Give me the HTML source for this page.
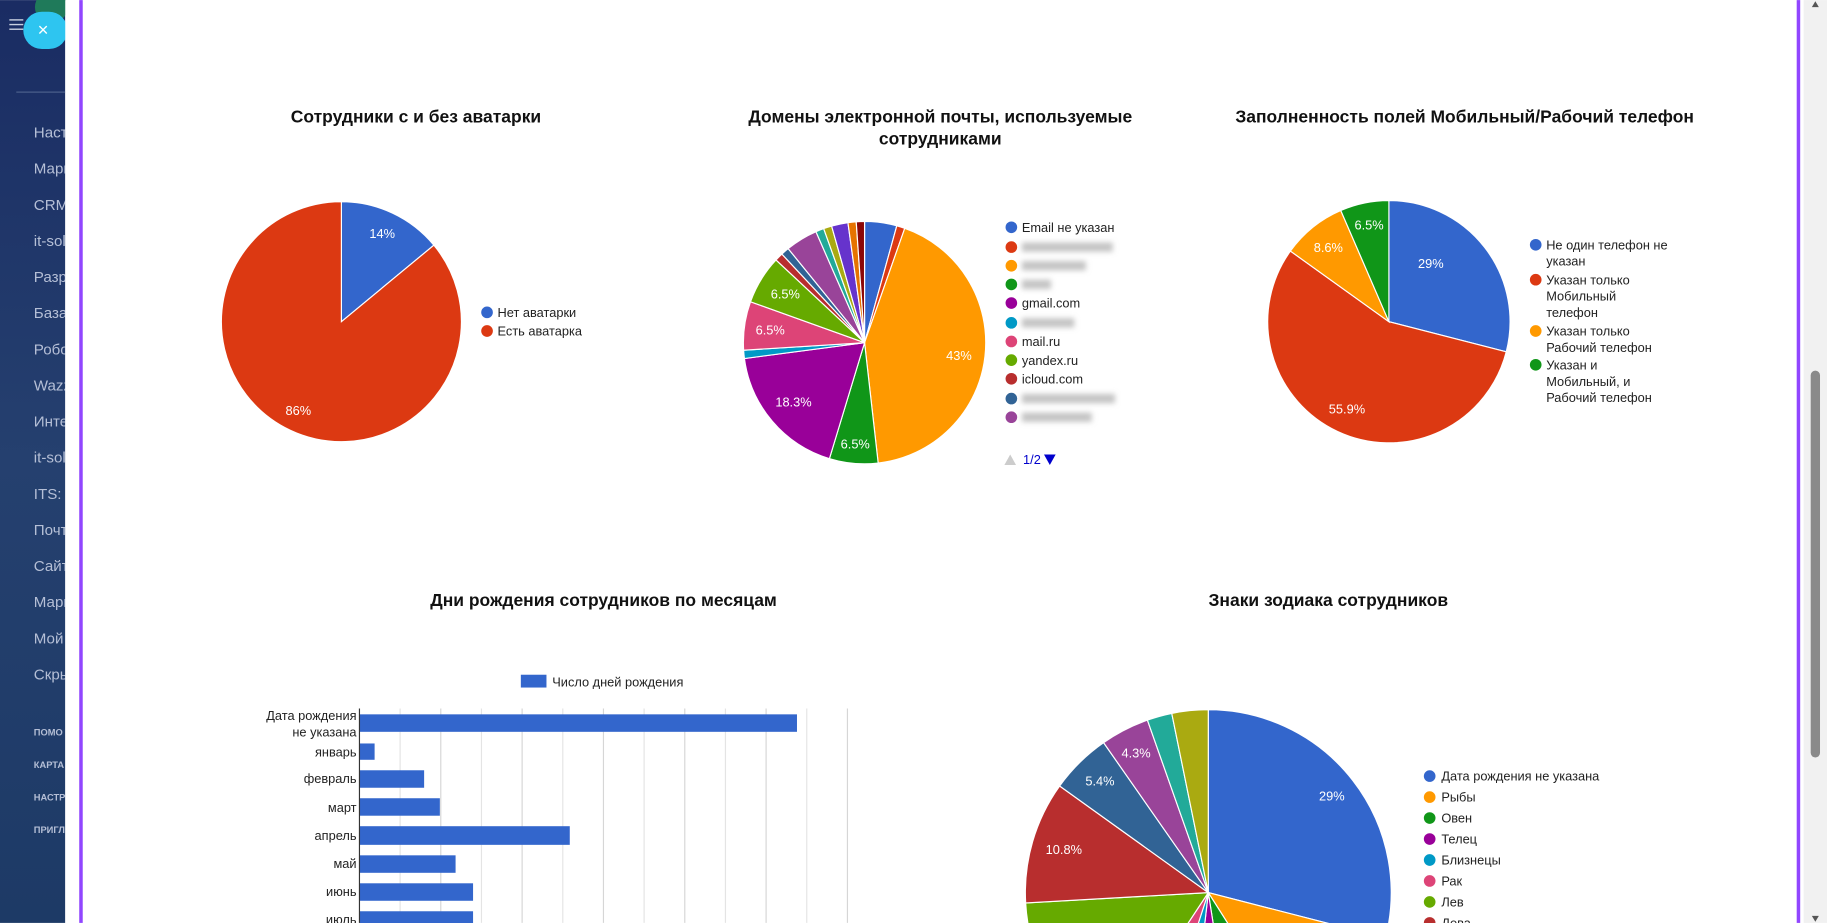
<!DOCTYPE html>
<html><head><meta charset="utf-8">
<style>
html,body{margin:0;padding:0;background:#fff;overflow:hidden;}
svg{display:block;}
text{font-family:"Liberation Sans","Noto Sans CJK SC",sans-serif;}
.t{font-size:15px;font-weight:bold;fill:#111;text-anchor:middle;}
.l{font-size:11px;fill:#222;}
.w{font-size:11px;fill:#fff;text-anchor:middle;}
.s{font-size:13px;fill:#b5bfd6;}
.ss{font-size:8px;fill:#b5bfd6;font-weight:bold;}
</style></head>
<body>
<svg width="1827" height="923" viewBox="0 0 1568 792" xmlns="http://www.w3.org/2000/svg">
<defs>
<linearGradient id="sb" x1="0" y1="0" x2="0" y2="1">
<stop offset="0" stop-color="#1a2c63"/><stop offset="0.5" stop-color="#25406f"/><stop offset="1" stop-color="#1d3a66"/>
</linearGradient>
<filter id="bl"><feGaussianBlur stdDeviation="2.2"/></filter>
</defs>
<rect x="0" y="0" width="56" height="792" fill="url(#sb)"/>
<circle cx="44" cy="6" r="14" fill="#1f7a5a"/>
<rect x="20" y="10" width="38" height="32" rx="16" fill="#2ec5f0"/>
<text x="37" y="31" font-size="16" fill="#fff" text-anchor="middle">×</text>
<g stroke="#c8d0e0" stroke-width="1.2"><line x1="8" y1="17" x2="20" y2="17"/><line x1="8" y1="21" x2="20" y2="21"/><line x1="8" y1="25" x2="20" y2="25"/></g>
<line x1="14" y1="79" x2="56" y2="79" stroke="#4a5e8a"/>
<g class="s">
<text x="29" y="118" class="s">Настр</text><text x="29" y="149" class="s">Марк</text><text x="29" y="180" class="s">CRM</text><text x="29" y="211" class="s">it-sol</text><text x="29" y="242" class="s">Разр</text><text x="29" y="273" class="s">База</text><text x="29" y="304" class="s">Робо</text><text x="29" y="335" class="s">Wazz</text><text x="29" y="366" class="s">Инте</text><text x="29" y="397" class="s">it-sol</text><text x="29" y="428" class="s">ITS: T</text><text x="29" y="459" class="s">Почт</text><text x="29" y="490" class="s">Сайт</text><text x="29" y="521" class="s">Марк</text><text x="29" y="552" class="s">Мой</text><text x="29" y="583" class="s">Скры</text>
</g>
<text x="29" y="631" class="ss">ПОМО</text><text x="29" y="659" class="ss">КАРТА</text><text x="29" y="687" class="ss">НАСТР</text><text x="29" y="715" class="ss">ПРИГЛ</text>
<rect x="56" y="0" width="1492" height="792" fill="#fff"/>
<rect x="68" y="0" width="3" height="792" fill="#9146ff"/>
<rect x="1542" y="0" width="3" height="792" fill="#9146ff"/>
<rect x="1548" y="0" width="20" height="792" fill="#f1f1f1"/>
<rect x="1554" y="318" width="8" height="332" rx="4" fill="#8a8a8a"/>
<path d="M1555 6 L1558 1 L1561 6Z" fill="#555"/><path d="M1555 786 L1558 791 L1561 786Z" fill="#555"/>

<g id="pies"></g>

<!-- titles -->
<text x="357" y="105" class="t">Сотрудники с и без аватарки</text>
<text x="807" y="105" class="t">Домены электронной почты, используемые</text>
<text x="807" y="124" class="t">сотрудниками</text>
<text x="1257" y="105" class="t">Заполненность полей Мобильный/Рабочий телефон</text>
<text x="518" y="520" class="t">Дни рождения сотрудников по месяцам</text>
<text x="1140" y="520" class="t">Знаки зодиака сотрудников</text>

<!-- pie1 labels/legend -->
<text x="328" y="204" class="w">14%</text>
<text x="256" y="356" class="w">86%</text>
<circle cx="418" cy="268" r="5" fill="#3366cc"/><text x="427" y="272" class="l">Нет аватарки</text>
<circle cx="418" cy="284" r="5" fill="#dc3912"/><text x="427" y="288" class="l">Есть аватарка</text>

<!-- pie2 labels/legend -->
<text x="823" y="309" class="w">43%</text>
<text x="734" y="385" class="w">6.5%</text>
<text x="681" y="349" class="w">18.3%</text>
<text x="661" y="287" class="w">6.5%</text>
<text x="674" y="256" class="w">6.5%</text>
<g>
<circle cx="868" cy="195" r="5" fill="#3366cc"/><text x="877" y="199" class="l">Email не указан</text>
<circle cx="868" cy="212" r="5" fill="#dc3912"/>
<circle cx="868" cy="228" r="5" fill="#ff9900"/>
<circle cx="868" cy="244" r="5" fill="#109618"/>
<circle cx="868" cy="260" r="5" fill="#990099"/><text x="877" y="264" class="l">gmail.com</text>
<circle cx="868" cy="277" r="5" fill="#0099c6"/>
<circle cx="868" cy="293" r="5" fill="#dd4477"/><text x="877" y="297" class="l">mail.ru</text>
<circle cx="868" cy="309" r="5" fill="#66aa00"/><text x="877" y="313" class="l">yandex.ru</text>
<circle cx="868" cy="325" r="5" fill="#b82e2e"/><text x="877" y="329" class="l">icloud.com</text>
<circle cx="868" cy="342" r="5" fill="#316395"/>
<circle cx="868" cy="358" r="5" fill="#994499"/>
<g filter="url(#bl)" fill="#c4c4c4">
<rect x="877" y="208" width="78" height="8"/><rect x="877" y="224" width="55" height="8"/><rect x="877" y="240" width="25" height="8"/><rect x="877" y="273" width="45" height="8"/><rect x="877" y="338" width="80" height="8"/><rect x="877" y="354" width="60" height="8"/>
</g>
<path d="M862 399 L867 390 L872 399Z" fill="#ccc"/>
<text x="878" y="398" class="l" fill="#00c" style="fill:#0000cc">1/2</text>
<path d="M896 390 L906 390 L901 399Z" fill="#0000cc"/>
</g>

<!-- pie3 labels/legend -->
<text x="1228" y="230" class="w">29%</text>
<text x="1156" y="355" class="w">55.9%</text>
<text x="1140" y="216" class="w">8.6%</text>
<text x="1175" y="197" class="w">6.5%</text>
<circle cx="1318" cy="210" r="5" fill="#3366cc"/><text x="1327" y="214" class="l">Не один телефон не</text><text x="1327" y="228" class="l">указан</text>
<circle cx="1318" cy="240" r="5" fill="#dc3912"/><text x="1327" y="244" class="l">Указан только</text><text x="1327" y="258" class="l">Мобильный</text><text x="1327" y="272" class="l">телефон</text>
<circle cx="1318" cy="284" r="5" fill="#ff9900"/><text x="1327" y="288" class="l">Указан только</text><text x="1327" y="302" class="l">Рабочий телефон</text>
<circle cx="1318" cy="313" r="5" fill="#109618"/><text x="1327" y="317" class="l">Указан и</text><text x="1327" y="331" class="l">Мобильный, и</text><text x="1327" y="345" class="l">Рабочий телефон</text>

<!-- bar chart -->
<rect x="447" y="579" width="22" height="11" fill="#3366cc"/>
<text x="474" y="589" class="l">Число дней рождения</text>
<g stroke="#e4e4e4" stroke-width="1">
<line x1="343.4" y1="608" x2="343.4" y2="792"/><line x1="378.3" y1="608" x2="378.3" y2="792" stroke="#d6d6d6"/><line x1="413.2" y1="608" x2="413.2" y2="792"/><line x1="448.1" y1="608" x2="448.1" y2="792" stroke="#d6d6d6"/><line x1="483" y1="608" x2="483" y2="792"/><line x1="517.9" y1="608" x2="517.9" y2="792" stroke="#d6d6d6"/><line x1="552.8" y1="608" x2="552.8" y2="792"/><line x1="587.7" y1="608" x2="587.7" y2="792" stroke="#d6d6d6"/><line x1="622.6" y1="608" x2="622.6" y2="792"/><line x1="657.5" y1="608" x2="657.5" y2="792" stroke="#d6d6d6"/><line x1="692.4" y1="608" x2="692.4" y2="792"/><line x1="727.3" y1="608" x2="727.3" y2="792" stroke="#d6d6d6"/>
</g>
<g fill="#3366cc">
<rect x="308.5" y="613" width="375.5" height="15"/>
<rect x="308.5" y="638" width="13" height="14"/>
<rect x="308.5" y="661" width="55.5" height="15"/>
<rect x="308.5" y="685" width="69" height="15"/>
<rect x="308.5" y="709" width="180.5" height="16"/>
<rect x="308.5" y="734" width="82.5" height="15"/>
<rect x="308.5" y="758" width="97.5" height="15"/>
<rect x="308.5" y="782" width="97.5" height="15"/>
</g>
<line x1="308.5" y1="608" x2="308.5" y2="792" stroke="#333"/>
<g class="l" text-anchor="end">
<text x="306" y="618" text-anchor="end">Дата рождения</text>
<text x="306" y="632" text-anchor="end">не указана</text>
<text x="306" y="649" text-anchor="end">январь</text>
<text x="306" y="672" text-anchor="end">февраль</text>
<text x="306" y="697" text-anchor="end">март</text>
<text x="306" y="721" text-anchor="end">апрель</text>
<text x="306" y="745" text-anchor="end">май</text>
<text x="306" y="769" text-anchor="end">июнь</text>
<text x="306" y="793" text-anchor="end">июль</text>
</g>

<!-- pie4 labels/legend -->
<g id="p4labels">
<text x="1143" y="687" class="w">29%</text>
<text x="913" y="733" class="w">10.8%</text>
<text x="944" y="674" class="w">5.4%</text>
<text x="975" y="650" class="w">4.3%</text>
</g>
<circle cx="1227" cy="666" r="5" fill="#3366cc"/><text x="1237" y="670" class="l">Дата рождения не указана</text>
<circle cx="1227" cy="684" r="5" fill="#ff9900"/><text x="1237" y="688" class="l">Рыбы</text>
<circle cx="1227" cy="702" r="5" fill="#109618"/><text x="1237" y="706" class="l">Овен</text>
<circle cx="1227" cy="720" r="5" fill="#990099"/><text x="1237" y="724" class="l">Телец</text>
<circle cx="1227" cy="738" r="5" fill="#0099c6"/><text x="1237" y="742" class="l">Близнецы</text>
<circle cx="1227" cy="756" r="5" fill="#dd4477"/><text x="1237" y="760" class="l">Рак</text>
<circle cx="1227" cy="774" r="5" fill="#66aa00"/><text x="1237" y="778" class="l">Лев</text>
<circle cx="1227" cy="792" r="5" fill="#b82e2e"/><text x="1237" y="796" class="l">Дева</text>
</svg>
<script>
(function(){
var C=["#3366cc","#dc3912","#ff9900","#109618","#990099","#0099c6","#dd4477","#66aa00","#b82e2e","#316395","#994499","#22aa99","#aaaa11","#6633cc","#e67300","#8b0707"];
var g=document.getElementById('pies');var ns="http://www.w3.org/2000/svg";
function pie(cx,cy,r,vals,cols,before){
 var tot=vals.reduce(function(a,b){return a+b},0),a=0,out=[];
 vals.forEach(function(v,i){
  var a0=a/tot*2*Math.PI,a1=(a+v)/tot*2*Math.PI;a+=v;
  var x0=cx+r*Math.sin(a0),y0=cy-r*Math.cos(a0),x1=cx+r*Math.sin(a1),y1=cy-r*Math.cos(a1);
  var p=document.createElementNS(ns,'path');
  p.setAttribute('d','M'+cx+' '+cy+' L'+x0+' '+y0+' A'+r+' '+r+' 0 '+((a1-a0)>Math.PI?1:0)+' 1 '+x1+' '+y1+' Z');
  p.setAttribute('fill',cols[i]);p.setAttribute('stroke','#fff');p.setAttribute('stroke-width','1');
  g.appendChild(p);
 });
}
pie(293,276,103,[14,86],[C[0],C[1]]);
pie(742,294,104,[4.3,1.1,43,6.5,18.3,1.1,6.5,6.5,1.1,1.1,4.3,1.1,1.1,2.2,1.1,1.1],C);
pie(1192,276,104,[29,55.9,8.6,6.5],[C[0],C[1],C[2],C[3]]);
pie(1037,766,157,[29,12,6.5,4.3,3.2,4.3,14.8,10.8,5.4,4.3,2.2,3.2],[C[0],C[2],C[3],C[4],C[5],C[6],C[7],C[8],C[9],C[10],C[11],C[12]]);
})();
</script>
</body></html>
